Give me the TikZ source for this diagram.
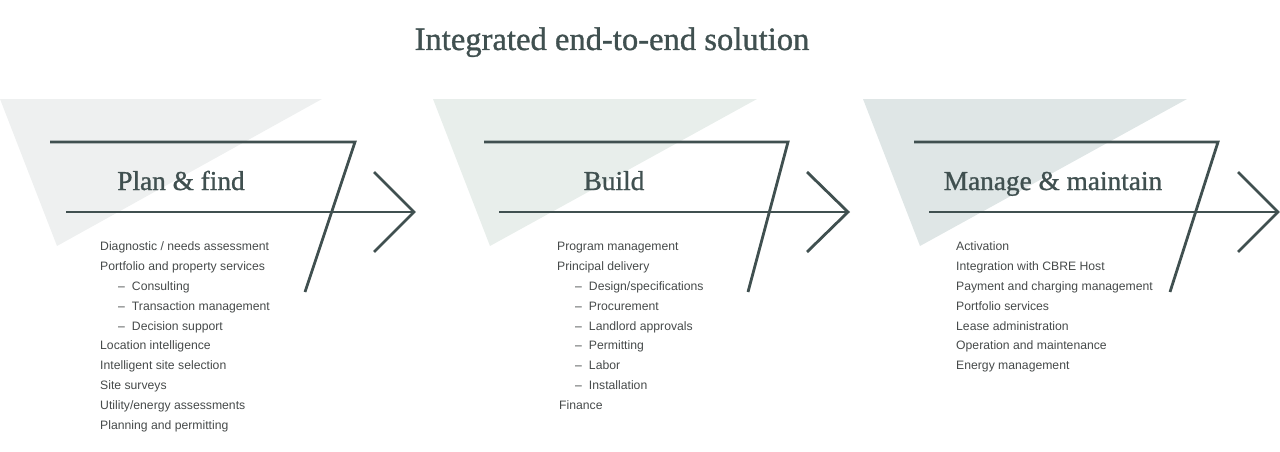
\documentclass[tikz,border=0pt]{standalone}
\usepackage{fontspec}
\setmainfont{Liberation Serif}
\setsansfont{Liberation Sans}
\newfontfamily\headfont{Liberation Serif}[FakeBold=1.0]
\definecolor{slate}{RGB}{64,80,80}
\definecolor{itemgray}{RGB}{70,74,74}
\definecolor{shadeA}{RGB}{238,240,240}
\definecolor{shadeB}{RGB}{232,238,235}
\definecolor{shadeC}{RGB}{223,230,230}

\begin{document}
\begin{tikzpicture}[x=1pt,y=-1pt,
    bar/.style={draw=slate,line width=2.8pt,line join=miter},
    heading/.style={text=slate,anchor=base,font=\headfont\fontsize{27.3}{30}\selectfont},
    items/.style={text=itemgray,font=\sffamily\fontsize{12.2}{19.8}\selectfont,
      align=left,anchor=north west,inner sep=0pt}]
  \useasboundingbox (0,0) rectangle (1280,452);

  \node[text=slate,anchor=base,font=\headfont\fontsize{32.6}{34}\selectfont] (title) at (612,50)
    {Integrated end-to-end solution};

  % plan and find
  \fill[shadeA] (0,99) -- (322,99) -- (57,246) -- cycle;
  \draw[bar] (50,142) -- (355,142) -- (305,292);
  \draw[bar] (66,212) -- (414,212);
  \draw[bar] (374,172) -- (414,212) -- (374,252);
  \node[heading] (plan) at (181,190) {Plan \& find};
  \node[items] (planlist) at (100,236.8) {
    \strut Diagnostic / needs assessment\\
    Portfolio and property services\\
    \hspace*{18pt}–\hspace{7pt}Consulting\\
    \hspace*{18pt}–\hspace{7pt}Transaction management\\
    \hspace*{18pt}–\hspace{7pt}Decision support\\
    Location intelligence\\
    Intelligent site selection\\
    Site surveys\\
    Utility/energy assessments\\
    Planning and permitting};

  % build
  \fill[shadeB] (433,99) -- (757,99) -- (490,246) -- cycle;
  \draw[bar] (484,142) -- (788,142) -- (748,292);
  \draw[bar] (499,212) -- (848,212);
  \draw[bar] (807,172) -- (848,212) -- (807,252);
  \node[heading] (build) at (614,190) {Build};
  \node[items] (buildlist) at (557,236.8) {
    \strut Program management\\
    Principal delivery\\
    \hspace*{18pt}–\hspace{7pt}Design/specifications\\
    \hspace*{18pt}–\hspace{7pt}Procurement\\
    \hspace*{18pt}–\hspace{7pt}Landlord approvals\\
    \hspace*{18pt}–\hspace{7pt}Permitting\\
    \hspace*{18pt}–\hspace{7pt}Labor\\
    \hspace*{18pt}–\hspace{7pt}Installation\\
    \hspace*{2pt}Finance};

  % manage and maintain
  \fill[shadeC] (863,99) -- (1187,99) -- (920,246) -- cycle;
  \draw[bar] (914,142) -- (1218,142) -- (1170,292);
  \draw[bar] (929,212) -- (1278,212);
  \draw[bar] (1238,172) -- (1278,212) -- (1238,252);
  \node[heading] (manage) at (1053,190) {Manage \& maintain};
  \node[items] (managelist) at (956,236.8) {
    \strut Activation\\
    Integration with CBRE Host\\
    Payment and charging management\\
    Portfolio services\\
    Lease administration\\
    Operation and maintenance\\
    Energy management};
\end{tikzpicture}
\end{document}
